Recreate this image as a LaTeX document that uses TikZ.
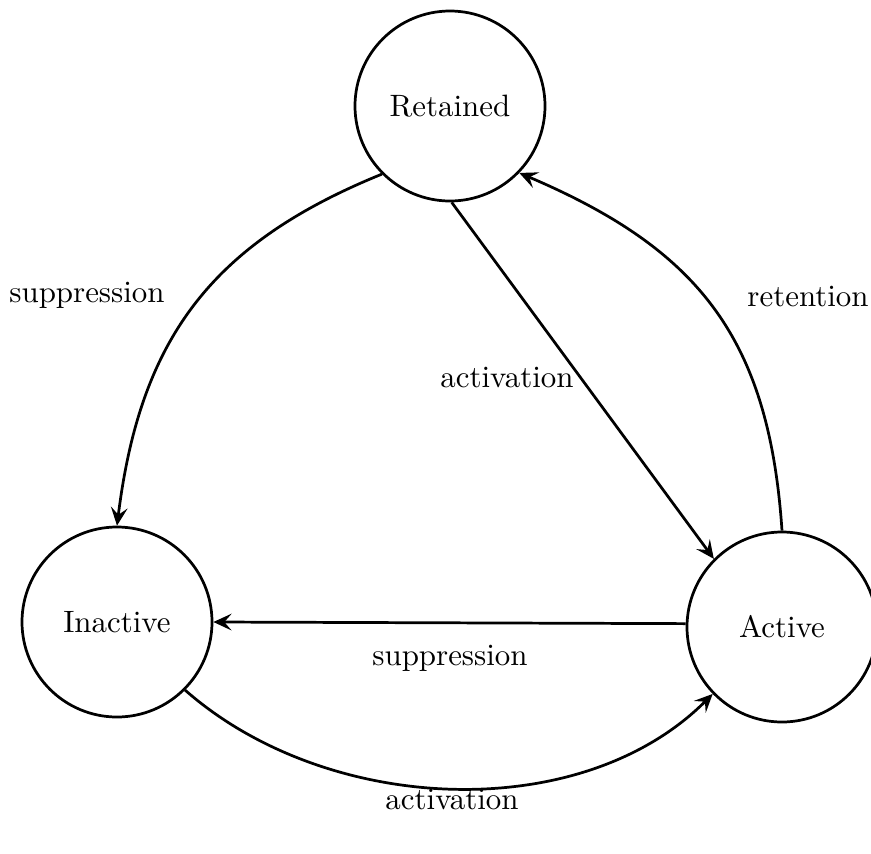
\documentclass[tikz,border=0pt]{standalone}
\usetikzlibrary{arrows.meta}
\begin{document}
\begin{tikzpicture}[x=0.33pt,y=-0.33pt,
  txt/.style={font=\fontsize{10.2}{12}\selectfont},
  state/.style={draw,circle,line width=0.9pt,minimum size=62.7pt,inner sep=0pt,txt},
  edge/.style={line width=0.9pt,-{Stealth[length=6pt,width=5.5pt,inset=2.4pt]}},
  lbl/.style={txt}]
  \useasboundingbox (0,0) rectangle (871,854);

  % states
  \node[state] (R) at (450,106) {Retained};
  \node[state] (I) at (117,622) {Inactive};
  \node[state] (A) at (782,627) {Active};

  % transitions
  \draw[edge] (R.225) .. controls (210,244) and (140,340) .. (I.north);
  \draw[edge] (R.271) -- (A.135);
  \draw[edge] (A.north) .. controls (769,337) and (698,249) .. (R.-44);
  \draw[edge] (A.178) -- (I.0);
  \draw[edge] (I.-45) .. controls (327,815) and (581,826) .. (A.224);

  % labels
  \node[lbl] (l1) at (87,295) {suppression};
  \node[lbl] (l2) at (808,297) {retention};
  \node[lbl] (l3) at (507,378) {activation};
  \node[lbl] (l4) at (450,658) {suppression};
  \node[lbl] (l5) at (452,800) {activation};
\end{tikzpicture}
\end{document}
